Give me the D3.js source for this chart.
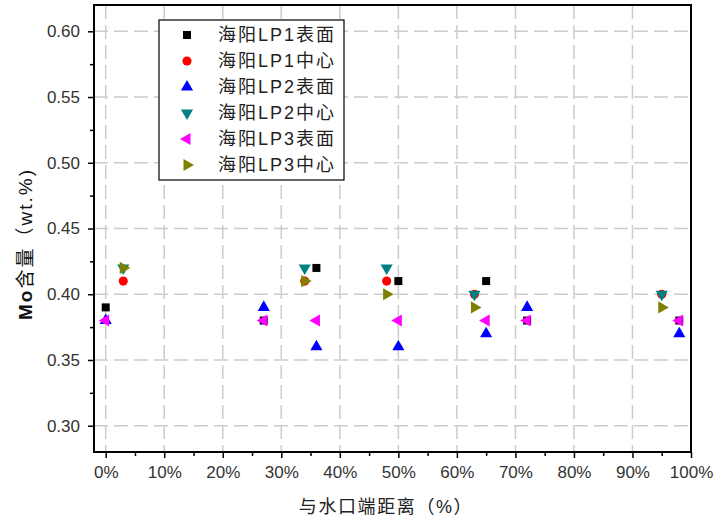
<!DOCTYPE html>
<html>
<head>
<meta charset="utf-8">
<script src="https://cdn.jsdelivr.net/npm/d3@7"></script>
<style>
  body { margin: 0; background: #fff; }
  text { font-family: "Liberation Sans", Arial, "Noto Sans CJK SC", sans-serif; }
</style>
</head>
<body>
<div id="chart"></div>
<script>
// series names and positions (% distance from nozzle end)
var seriesNames = ["海阳LP1表面", "海阳LP1中心", "海阳LP2表面", "海阳LP2中心", "海阳LP3表面", "海阳LP3中心"];
var surfaceX = [0, 27, 36, 50, 65, 72, 98];
var centerX = [3, 34, 48, 63, 95];

var lp1Surface = [0.39, 0.38, 0.42, 0.41, 0.41, 0.38, 0.38];
var lp1Center = [0.41, 0.41, 0.41, 0.40, 0.40];
var lp2Surface = [0.38, 0.39, 0.36, 0.36, 0.37, 0.39, 0.37];
var lp2Center = [0.42, 0.42, 0.42, 0.40, 0.40];
var lp3Surface = [0.38, 0.38, 0.38, 0.38, 0.38, 0.38, 0.38];
var lp3Center = [0.42, 0.41, 0.40, 0.39, 0.39];

var xTicks = [0, 10, 20, 30, 40, 50, 60, 70, 80, 90, 100];
var yTicks = [0.30, 0.35, 0.40, 0.45, 0.50, 0.55, 0.60];

var svgWidth = 714;
var svgHeight = 521;
var margin = { top: 5, right: 23, bottom: 69, left: 94 };
var width = svgWidth - margin.left - margin.right;
var height = svgHeight - margin.top - margin.bottom;

var svg = d3.select("#chart")
  .append("svg")
  .attr("width", svgWidth)
  .attr("height", svgHeight);

var chartGroup = svg.append("g")
  .attr("transform", `translate(${margin.left}, ${margin.top})`);

var xScale = d3.scaleLinear().domain([-2, 100]).range([0, width]);
var yScale = d3.scaleLinear().domain([0.28, 0.62]).range([height, 0]);

// dashed grid
chartGroup.append("g")
  .selectAll("line")
  .data(xTicks.slice(0, -1))
  .enter()
  .append("line")
  .attr("x1", d => xScale(d)).attr("x2", d => xScale(d))
  .attr("y1", 0).attr("y2", height)
  .attr("stroke", "#cccccc").attr("stroke-width", 1.5)
  .attr("stroke-dasharray", "14,6");

chartGroup.append("g")
  .selectAll("line")
  .data(yTicks)
  .enter()
  .append("line")
  .attr("x1", 0).attr("x2", width)
  .attr("y1", d => yScale(d)).attr("y2", d => yScale(d))
  .attr("stroke", "#cccccc").attr("stroke-width", 1.5)
  .attr("stroke-dasharray", "14,6");

// axes
var xAxis = d3.axisBottom(xScale).tickValues(xTicks).tickSize(6).tickPadding(8).tickFormat(d => d + "%");
var yAxis = d3.axisLeft(yScale).tickValues(yTicks).tickSize(6).tickPadding(8).tickFormat(d3.format(".2f"));

var xMinor = d3.axisBottom(xScale).tickValues(d3.range(5, 100, 10)).tickSize(4).tickFormat("");
var yMinor = d3.axisLeft(yScale).tickValues([0.325, 0.375, 0.425, 0.475, 0.525, 0.575]).tickSize(4).tickFormat("");

function styleAxis(g) {
  g.select(".domain").remove();
  g.selectAll(".tick line").attr("stroke", "#000").attr("stroke-width", 1.5);
  g.selectAll(".tick text").attr("fill", "#333").style("font-size", "17px");
}

chartGroup.append("g").attr("transform", `translate(0, ${height})`).call(xAxis).call(styleAxis);
chartGroup.append("g").attr("transform", `translate(0, ${height})`).call(xMinor).call(styleAxis);
chartGroup.append("g").call(yAxis).call(styleAxis);
chartGroup.append("g").call(yMinor).call(styleAxis);

// frame
chartGroup.append("rect")
  .attr("width", width).attr("height", height)
  .attr("fill", "none").attr("stroke", "#000").attr("stroke-width", 2);

// markers
var triangle = d3.symbol().type(d3.symbolTriangle).size(64);
var series = [
  { name: seriesNames[0], xs: surfaceX, ys: lp1Surface, color: "#000000", path: d3.symbol().type(d3.symbolSquare).size(64)(), rot: 0 },
  { name: seriesNames[1], xs: centerX, ys: lp1Center, color: "#ff0000", path: d3.symbol().type(d3.symbolCircle).size(66)(), rot: 0 },
  { name: seriesNames[2], xs: surfaceX, ys: lp2Surface, color: "#0000ff", path: triangle(), rot: 0 },
  { name: seriesNames[3], xs: centerX, ys: lp2Center, color: "#008080", path: triangle(), rot: 180 },
  { name: seriesNames[4], xs: surfaceX, ys: lp3Surface, color: "#ff00ff", path: triangle(), rot: -90 },
  { name: seriesNames[5], xs: centerX, ys: lp3Center, color: "#808000", path: triangle(), rot: 90 }
];

series.forEach(function(s) {
  chartGroup.append("g")
    .selectAll("path")
    .data(s.ys)
    .enter()
    .append("path")
    .attr("d", s.path)
    .attr("transform", (d, i) => `translate(${xScale(s.xs[i])}, ${yScale(d)}) rotate(${s.rot})`)
    .attr("fill", s.color);
});

// legend
var legend = svg.append("g").attr("transform", "translate(159, 20)");
legend.append("rect")
  .attr("width", 185).attr("height", 160)
  .attr("fill", "#fff").attr("stroke", "#000").attr("stroke-width", 1.2);

var items = legend.selectAll(".item")
  .data(series)
  .enter()
  .append("g")
  .attr("transform", (d, i) => `translate(0, ${15 + i * 26})`);

items.append("path")
  .attr("d", d => d.path)
  .attr("transform", d => `translate(28, 0) rotate(${d.rot})`)
  .attr("fill", d => d.color);

items.append("text")
  .attr("x", 59)
  .attr("dy", "0.36em")
  .attr("fill", "#222")
  .style("font-size", "18px")
  .style("letter-spacing", "2px")
  .text(d => d.name);

// axis titles
svg.append("text")
  .attr("transform", "translate(25, 244) rotate(-90)")
  .attr("text-anchor", "middle")
  .attr("dy", "0.36em")
  .attr("fill", "#111")
  .style("font-size", "19px")
  .style("letter-spacing", "2px")
  .html('<tspan font-weight="bold">Mo</tspan>含量（wt.%)');

svg.append("text")
  .attr("x", 386)
  .attr("y", 507)
  .attr("text-anchor", "middle")
  .attr("dy", "0.36em")
  .attr("fill", "#222")
  .style("font-size", "18px")
  .style("letter-spacing", "1.6px")
  .text("与水口端距离（%）");
</script>
</body>
</html>
